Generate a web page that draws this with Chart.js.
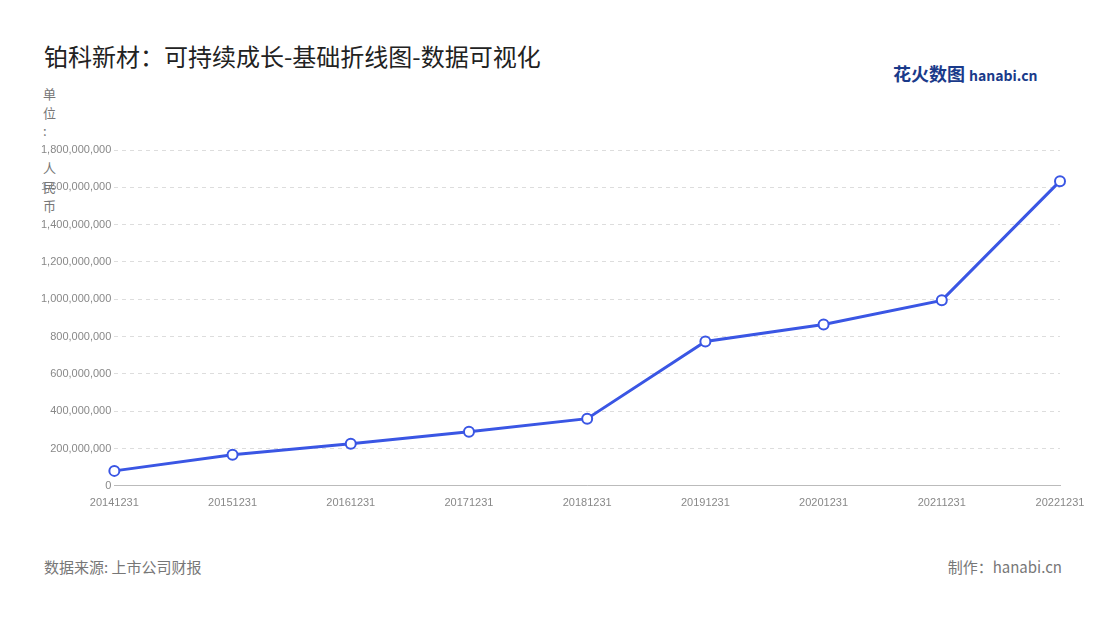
<!DOCTYPE html>
<html><head><meta charset="utf-8">
<script src="https://cdn.jsdelivr.net/npm/chart.js@4"></script>
<style>
body{margin:0;width:1100px;height:620px;background:#fff;font-family:"Noto Sans CJK SC","Noto Sans",sans-serif;position:relative;overflow:hidden}
#t{position:absolute;left:44px;top:38px;font-size:24px;color:#222}
#logo{position:absolute;left:893px;top:60px;font-size:18px;font-weight:bold;color:#1a3a8a}
#logo span{font-size:14px;color:#1a3a8a}
#unit{position:absolute;left:43px;top:85px;width:14px;font-size:13px;line-height:18.6px;color:#777}
#unit div{height:18.6px}
#src{position:absolute;left:44px;top:556px;font-size:15px;color:#777}
#mk{position:absolute;right:38px;top:556px;font-size:15px;color:#777}
#c{position:absolute;left:0;top:0}
</style></head><body>
<div id="t">铂科新材：可持续成长-基础折线图-数据可视化</div>
<div id="logo">花火数图 <span>hanabi.cn</span></div>
<div id="unit"><div>单</div><div>位</div><div>:</div><div></div><div>人</div><div>民</div><div>币</div></div>
<div id="src">数据来源: 上市公司财报</div>
<div id="mk">制作：hanabi.cn</div>
<div id="c" style="width:1100px;height:620px"><canvas id="cv"></canvas></div>
<script>
const categories=["20141231","20151231","20161231","20171231","20181231","20191231","20201231","20211231","20221231"];
const values=[80000000,167000000,226000000,290000000,360000000,774000000,865000000,994000000,1633000000];
new Chart(document.getElementById('cv'),{type:'line',
data:{labels:categories,datasets:[{data:values,borderColor:'#3a56e4',borderWidth:3,pointBackgroundColor:'#fff',pointBorderColor:'#3a56e4',pointBorderWidth:2,pointRadius:5,tension:0}]},
options:{responsive:true,maintainAspectRatio:false,animation:false,
layout:{padding:{left:38,right:40,top:150,bottom:107}},
plugins:{legend:{display:false},tooltip:{enabled:false}},
scales:{x:{offset:false,grid:{display:false},border:{color:'#bbb'},ticks:{color:'#888',font:{size:11},maxRotation:0,autoSkip:false}},
y:{min:0,max:1800000000,ticks:{stepSize:200000000,color:'#888',font:{size:11},callback:v=>v.toLocaleString('en-US')},grid:{color:'#ddd',drawTicks:false},border:{display:false,dash:[4,4]}}}}});
</script></body></html>
